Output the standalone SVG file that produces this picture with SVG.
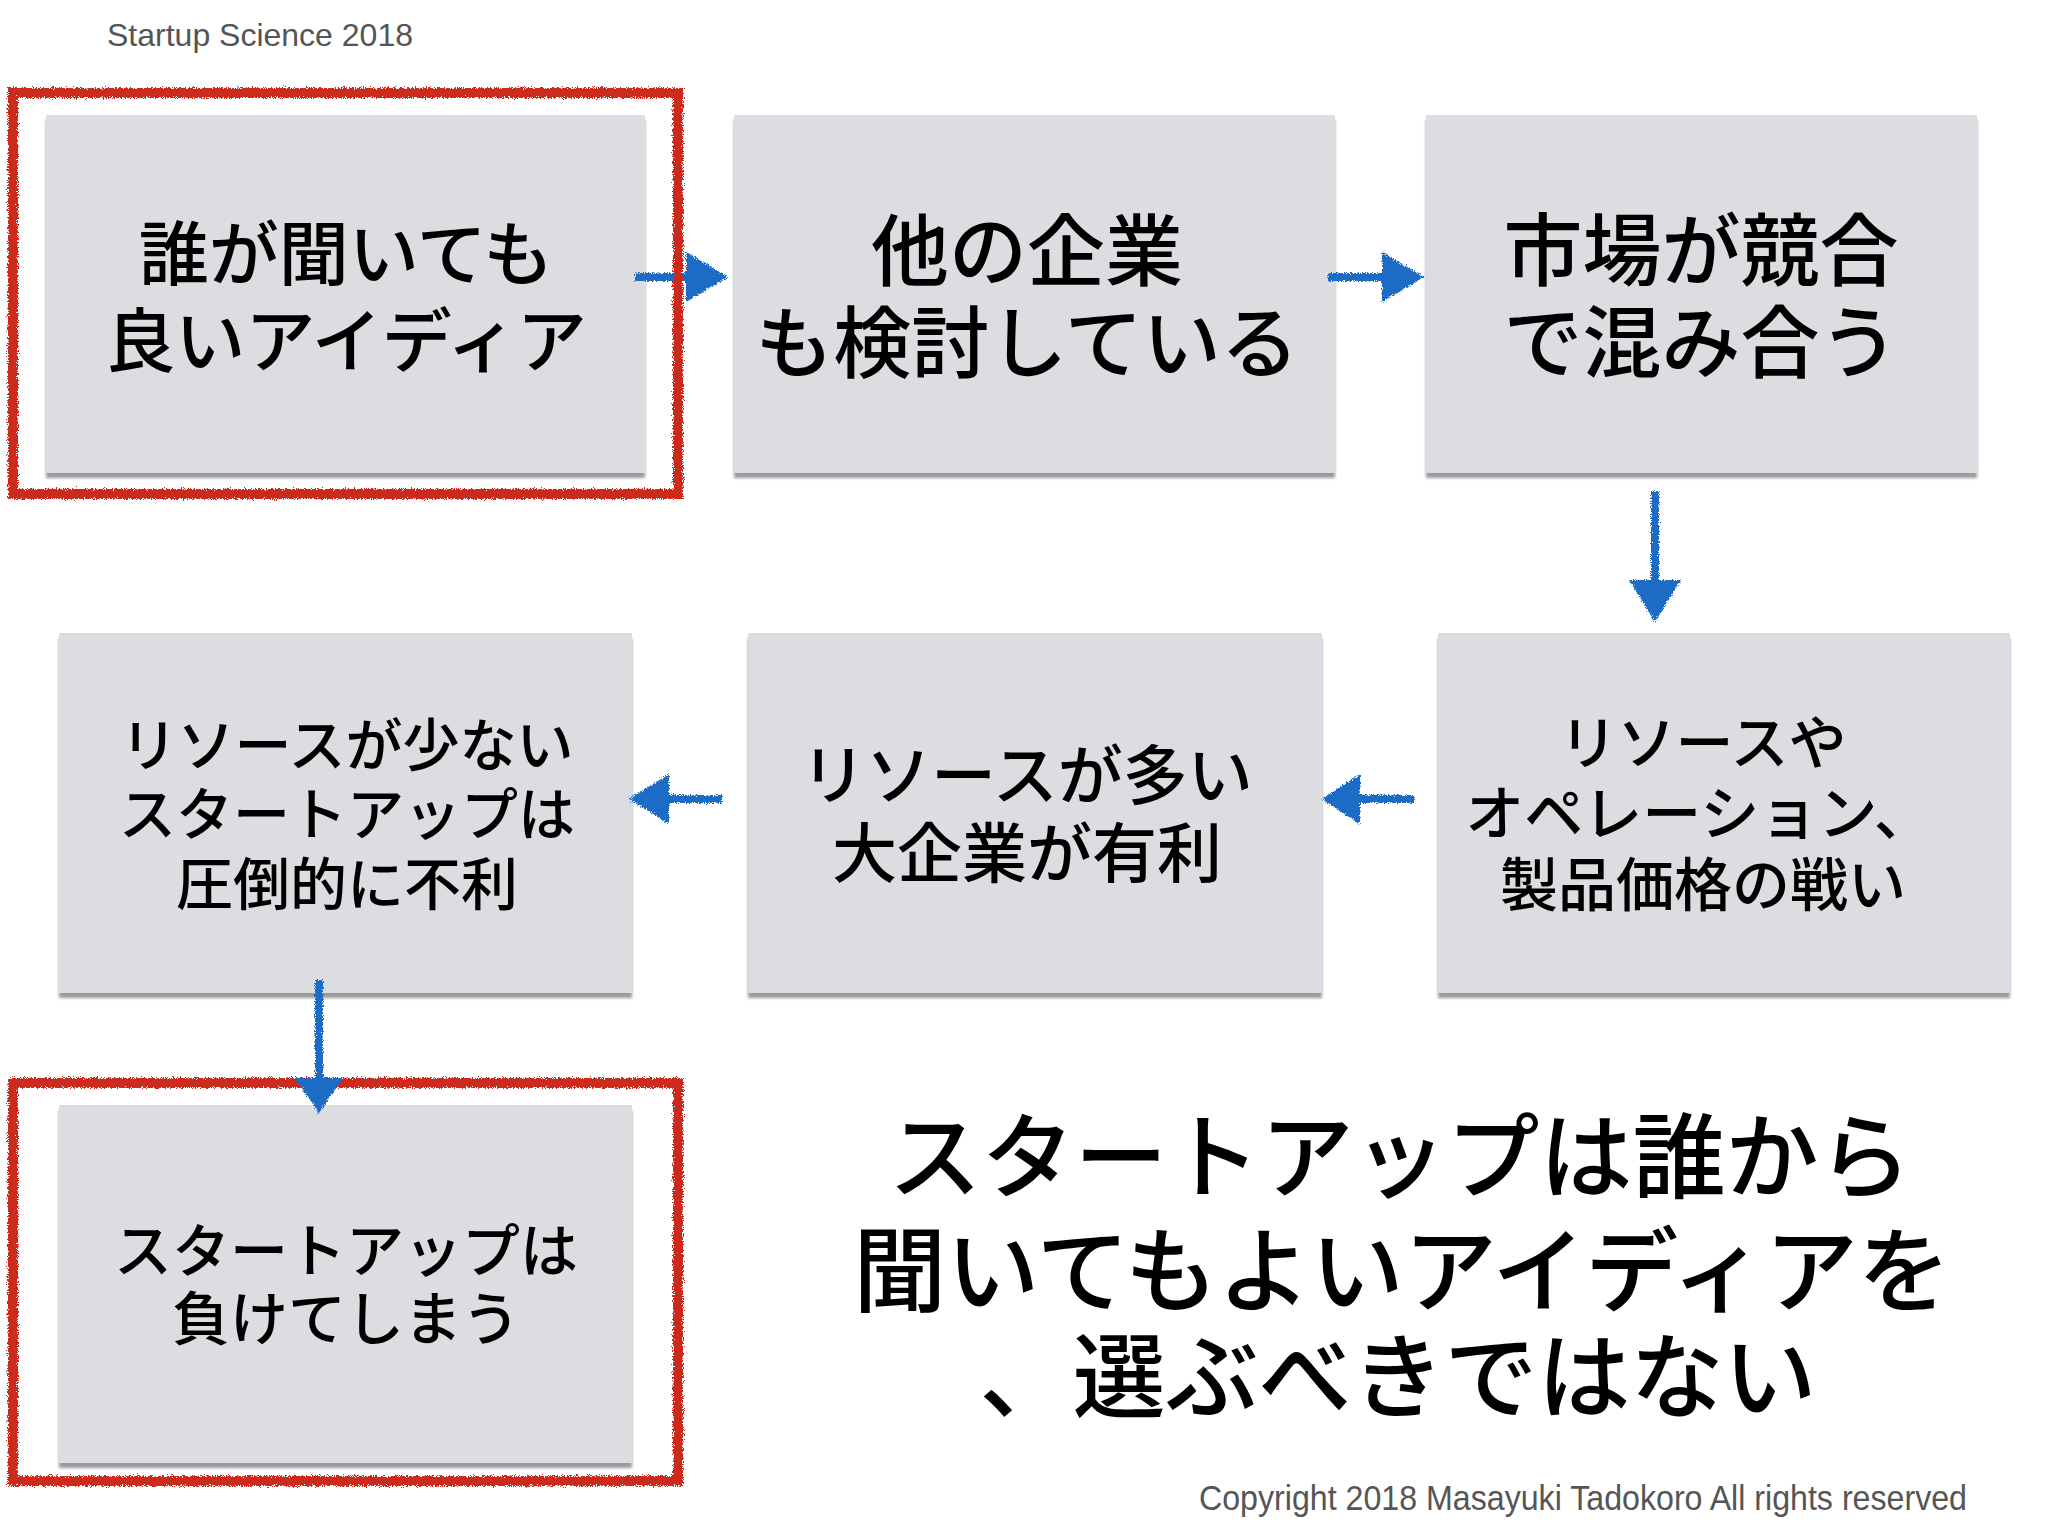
<svg xmlns="http://www.w3.org/2000/svg" width="2048" height="1536" viewBox="0 0 2048 1536">
<defs>
<filter id="crayon" x="-5%" y="-5%" width="110%" height="110%">
<feTurbulence type="fractalNoise" baseFrequency="1.1" numOctaves="2" seed="3" result="n"/>
<feDisplacementMap in="SourceGraphic" in2="n" scale="7" xChannelSelector="R" yChannelSelector="G"/>
</filter>
<filter id="crayonA" x="-30%" y="-30%" width="160%" height="160%">
<feTurbulence type="fractalNoise" baseFrequency="1.1" numOctaves="2" seed="7" result="n"/>
<feDisplacementMap in="SourceGraphic" in2="n" scale="6" xChannelSelector="R" yChannelSelector="G"/>
</filter>
<filter id="soft" x="-5%" y="-5%" width="110%" height="115%">
<feGaussianBlur stdDeviation="1.5"/>
</filter>
</defs>
<style>
.box{fill:#dcdde0}
.sh{fill:#9a9a9c;filter:url(#soft)}
.jp{font-family:"Noto Sans CJK JP","Noto Sans CJK SC",sans-serif;font-weight:500;fill:#000;text-anchor:middle}
.lat{font-family:"Liberation Sans",Arial,sans-serif;fill:#555}
.red{fill:none;stroke:#cc2b1c;stroke-width:10;filter:url(#crayon)}
.ash{fill:none;stroke:#1c6cc6;stroke-width:8}
.ahd{fill:#1c6cc6}
</style>
<rect width="2048" height="1536" fill="#fff"/>
<text class="lat" x="107" y="46" font-size="32">Startup Science 2018</text>

<g id="node1">
<rect class="sh" x="46" y="120" width="599" height="358"/>
<rect class="box" x="46" y="115" width="599" height="358"/>
<text class="jp" x="346" y="280" font-size="70">誰が聞いても</text>
<text class="jp" x="346" y="367" font-size="70">良いアイディア</text>
</g>
<g id="node2">
<rect class="sh" x="734" y="120" width="601" height="358"/>
<rect class="box" x="734" y="115" width="601" height="358"/>
<text class="jp" x="1027" y="280" font-size="78">他の企業</text>
<text class="jp" x="1027" y="372" font-size="78">も検討している</text>
</g>
<g id="node3">
<rect class="sh" x="1426" y="120" width="551" height="358"/>
<rect class="box" x="1426" y="115" width="551" height="358"/>
<text class="jp" x="1701" y="280" font-size="79">市場が競合</text>
<text class="jp" x="1701" y="372" font-size="79">で混み合う</text>
</g>
<g id="node4">
<rect class="sh" x="59" y="638" width="573" height="360"/>
<rect class="box" x="59" y="633" width="573" height="360"/>
<text class="jp" x="347" y="766" font-size="57">リソースが少ない</text>
<text class="jp" x="347" y="835" font-size="57">スタートアップは</text>
<text class="jp" x="347" y="905" font-size="57">圧倒的に不利</text>
</g>
<g id="node5">
<rect class="sh" x="748" y="638" width="574" height="360"/>
<rect class="box" x="748" y="633" width="574" height="360"/>
<text class="jp" x="1027" y="799" font-size="65">リソースが多い</text>
<text class="jp" x="1027" y="877" font-size="65">大企業が有利</text>
</g>
<g id="node6">
<rect class="sh" x="1438" y="638" width="572" height="360"/>
<rect class="box" x="1438" y="633" width="572" height="360"/>
<text class="jp" x="1703" y="764" font-size="58">リソースや</text>
<text class="jp" x="1699" y="835" font-size="59">オペレーション、</text>
<text class="jp" x="1703" y="906" font-size="58">製品価格の戦い</text>
</g>
<g id="node7">
<rect class="sh" x="59" y="1110" width="573" height="358"/>
<rect class="box" x="59" y="1105" width="573" height="358"/>
<text class="jp" x="346" y="1272" font-size="58">スタートアップは</text>
<text class="jp" x="346" y="1340" font-size="58">負けてしまう</text>
</g>

<g id="highlight2">
<rect class="red" x="13" y="1083" width="665" height="398"/>
</g>

<g id="connectors" filter="url(#crayonA)">
<path class="ash" d="M635 277 H692"/>
<polygon class="ahd" points="686,252 728,277 686,302"/>
<path class="ash" d="M1328 277 H1388"/>
<polygon class="ahd" points="1382,252 1424,277 1382,302"/>
<path class="ash" d="M1655 491 V585"/>
<polygon class="ahd" points="1629,580 1681,580 1655,622"/>
<path class="ash" d="M1414 799 H1354"/>
<polygon class="ahd" points="1360,774 1360,824 1322,799"/>
<path class="ash" d="M722 799 H663"/>
<polygon class="ahd" points="669,774 669,824 629,799"/>
<path class="ash" d="M319 980 V1085"/>
<polygon class="ahd" points="295,1078 343,1078 319,1113"/>
</g>

<g id="highlight1">
<rect class="red" x="13" y="93" width="665" height="401"/>
</g>

<g id="conclusion">
<text class="jp" x="1400" y="1191" font-size="93">スタートアップは誰から</text>
<text class="jp" x="1402" y="1305" font-size="93">聞いてもよいアイディアを</text>
<text class="jp" x="1398" y="1411" font-size="93">、選ぶべきではない</text>
</g>
<text class="lat" x="1199" y="1510" font-size="35" textLength="768" lengthAdjust="spacingAndGlyphs">Copyright 2018 Masayuki Tadokoro All rights reserved</text>
</svg>
